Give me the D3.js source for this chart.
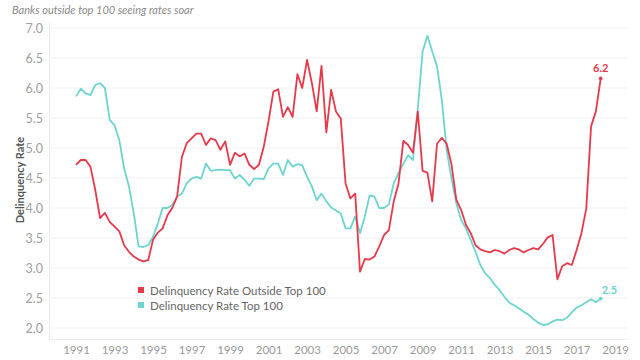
<!DOCTYPE html>
<html>
<head>
<meta charset="utf-8">
<script src="https://cdn.jsdelivr.net/npm/d3@7"></script>
<style>
    body { margin: 0; background: #fff; }
    svg { display: block; font-family: Lato, "Open Sans", sans-serif; }
</style>
</head>
<body>
<svg width="640" height="360"></svg>
<script>
// quarterly, 1991 Q1 .. 2018 Q2
var years = [1991, 1992, 1993, 1994, 1995, 1996, 1997, 1998, 1999, 2000, 2001, 2002, 2003, 2004,
             2005, 2006, 2007, 2008, 2009, 2010, 2011, 2012, 2013, 2014, 2015, 2016, 2017, 2018];
var quarters = [0, 0.25, 0.5, 0.75];

var outsideTop100 = [
    4.72, 4.80, 4.80, 4.69, 4.30, 3.83, 3.92, 3.77, 3.69, 3.61,
    3.38, 3.27, 3.19, 3.14, 3.11, 3.13, 3.47, 3.59, 3.66, 3.88,
    4.00, 4.19, 4.85, 5.08, 5.16, 5.24, 5.24, 5.05, 5.16, 5.13,
    4.97, 5.11, 4.72, 4.92, 4.86, 4.91, 4.72, 4.65, 4.72, 5.02,
    5.45, 5.94, 5.98, 5.52, 5.68, 5.52, 6.23, 6.00, 6.47, 6.08,
    5.61, 6.37, 5.26, 5.97, 5.61, 5.49, 4.41, 4.16, 4.24, 2.94,
    3.15, 3.14, 3.19, 3.36, 3.55, 3.63, 4.11, 4.41, 5.12, 5.05,
    4.92, 5.61, 4.62, 4.59, 4.11, 5.07, 5.17, 5.07, 4.73, 4.14,
    3.97, 3.72, 3.58, 3.38, 3.31, 3.28, 3.26, 3.30, 3.28, 3.24,
    3.30, 3.33, 3.31, 3.26, 3.30, 3.33, 3.31, 3.40, 3.51, 3.55,
    2.81, 3.03, 3.08, 3.05, 3.30, 3.58, 3.99, 5.36, 5.61, 6.16
];
var top100 = [
    5.86, 5.99, 5.91, 5.88, 6.05, 6.08, 6.00, 5.47, 5.38, 5.13,
    4.66, 4.36, 3.91, 3.36, 3.35, 3.38, 3.52, 3.74, 4.00, 4.00,
    4.05, 4.19, 4.24, 4.41, 4.49, 4.52, 4.49, 4.74, 4.62, 4.63,
    4.64, 4.63, 4.63, 4.49, 4.55, 4.47, 4.37, 4.49, 4.49, 4.48,
    4.66, 4.74, 4.74, 4.55, 4.80, 4.69, 4.73, 4.71, 4.52, 4.36,
    4.13, 4.24, 4.11, 4.01, 3.96, 3.91, 3.66, 3.66, 3.86, 3.58,
    3.86, 4.21, 4.19, 4.00, 4.00, 4.06, 4.41, 4.58, 4.74, 4.88,
    4.80, 5.65, 6.61, 6.87, 6.61, 6.36, 5.80, 4.97, 4.49, 4.08,
    3.80, 3.66, 3.47, 3.27, 3.05, 2.91, 2.83, 2.72, 2.63, 2.52,
    2.42, 2.38, 2.33, 2.27, 2.22, 2.15, 2.09, 2.05, 2.06, 2.11,
    2.14, 2.13, 2.17, 2.26, 2.34, 2.38, 2.43, 2.48, 2.43, 2.49
];

var yTicks = [2.0, 2.5, 3.0, 3.5, 4.0, 4.5, 5.0, 5.5, 6.0, 6.5, 7.0];
var xTicks = [1991, 1993, 1995, 1997, 1999, 2001, 2003, 2005, 2007, 2009, 2011, 2013, 2015, 2017, 2019];
var seriesNames = ["Delinquency Rate Outside Top 100", "Delinquency Rate Top 100"];
var colors = ["#e8394a", "#6dd5d0"];

draw();

function draw() {
    var svg = d3.select("svg"),
        plotLeft = 49,
        plotRight = 628,
        plotTop = 22,
        plotBottom = 339;

    // date of each quarter as decimal year
    var dates = [];
    years.forEach(function(yr) {
        quarters.forEach(function(q) { dates.push(yr + q); });
    });
    dates = dates.slice(0, outsideTop100.length);

    var x = d3.scaleLinear().domain([1991, 2018.25]).range([76, 600.7]),
        y = d3.scaleLinear().domain([2, 7]).range([328, 28]);

    svg.append("text")
        .attr("x", 12)
        .attr("y", 14)
        .attr("font-size", 11)
        .attr("font-style", "italic")
        .attr("fill", "#8a8a8a")
        .text("Banks outside top 100 seeing rates soar");

    // gridlines
    svg.append("g")
        .selectAll("line")
        .data(yTicks)
        .enter().append("line")
            .attr("x1", plotLeft)
            .attr("x2", plotRight)
            .attr("y1", function(d) { return y(d); })
            .attr("y2", function(d) { return y(d); })
            .attr("stroke", "#f0f0f0")
            .attr("stroke-width", 1);

    svg.append("line")
        .attr("x1", plotLeft + 0.5).attr("x2", plotLeft + 0.5)
        .attr("y1", plotTop).attr("y2", plotBottom)
        .attr("stroke", "#ececec");
    svg.append("line")
        .attr("x1", plotLeft).attr("x2", plotRight)
        .attr("y1", plotBottom + 0.5).attr("y2", plotBottom + 0.5)
        .attr("stroke", "#ececec");

    var yAxis = svg.append("g")
        .attr("transform", "translate(" + (plotLeft - 3) + ",0)")
        .call(d3.axisLeft(y).tickValues(yTicks).tickFormat(d3.format(".1f")).tickSize(0));
    yAxis.select(".domain").remove();
    yAxis.selectAll("text")
        .attr("fill", "#a0a0a0")
        .attr("font-size", 12.5)
        .attr("font-family", "Lato, sans-serif");

    var xAxis = svg.append("g")
        .attr("transform", "translate(0," + (plotBottom + 4) + ")")
        .call(d3.axisBottom(x).tickValues(xTicks).tickFormat(d3.format("d")).tickSize(0));
    xAxis.select(".domain").remove();
    xAxis.selectAll("text")
        .attr("fill", "#9a9a9a")
        .attr("font-size", 11.5)
        .attr("font-family", "Lato, sans-serif");

    svg.append("text")
        .attr("transform", "translate(24,180) rotate(-90)")
        .attr("text-anchor", "middle")
        .attr("font-size", 11)
        .attr("font-weight", "bold")
        .attr("fill", "#555")
        .text("Delinquency Rate");

    var line = d3.line()
        .x(function(d, i) { return x(dates[i]); })
        .y(function(d) { return y(d); });

    [top100, outsideTop100].forEach(function(vals, k) {
        svg.append("path")
            .datum(vals)
            .attr("fill", "none")
            .attr("stroke", k == 0 ? colors[1] : colors[0])
            .attr("stroke-width", 1.8)
            .attr("stroke-linejoin", "round")
            .attr("d", line);
    });

    // end labels
    var last = outsideTop100.length - 1;
    svg.append("circle")
        .attr("cx", x(dates[last])).attr("cy", y(outsideTop100[last]))
        .attr("r", 1.8).attr("fill", colors[0]);
    svg.append("text")
        .attr("x", x(dates[last]))
        .attr("y", y(outsideTop100[last]) - 6)
        .attr("text-anchor", "middle")
        .attr("font-size", 11)
        .attr("font-weight", "bold")
        .attr("fill", colors[0])
        .text(d3.format(".1f")(outsideTop100[last]));
    svg.append("circle")
        .attr("cx", x(dates[last])).attr("cy", y(top100[last]))
        .attr("r", 1.8).attr("fill", colors[1]);
    svg.append("text")
        .attr("x", x(dates[last]) + 1)
        .attr("y", y(top100[last]) - 5)
        .attr("font-size", 11)
        .attr("font-weight", "bold")
        .attr("fill", colors[1])
        .text(d3.format(".1f")(top100[last]));

    // legend
    var legend = svg.append("g").attr("transform", "translate(138,287)");
    seriesNames.forEach(function(name, i) {
        legend.append("rect")
            .attr("x", 0).attr("y", i * 15)
            .attr("width", 6).attr("height", 6)
            .attr("fill", colors[i]);
        legend.append("text")
            .attr("x", 12).attr("y", i * 15 + 7.5)
            .attr("font-size", 11.5)
            .attr("fill", "#666")
            .text(name);
    });
}
</script>
</body>
</html>
